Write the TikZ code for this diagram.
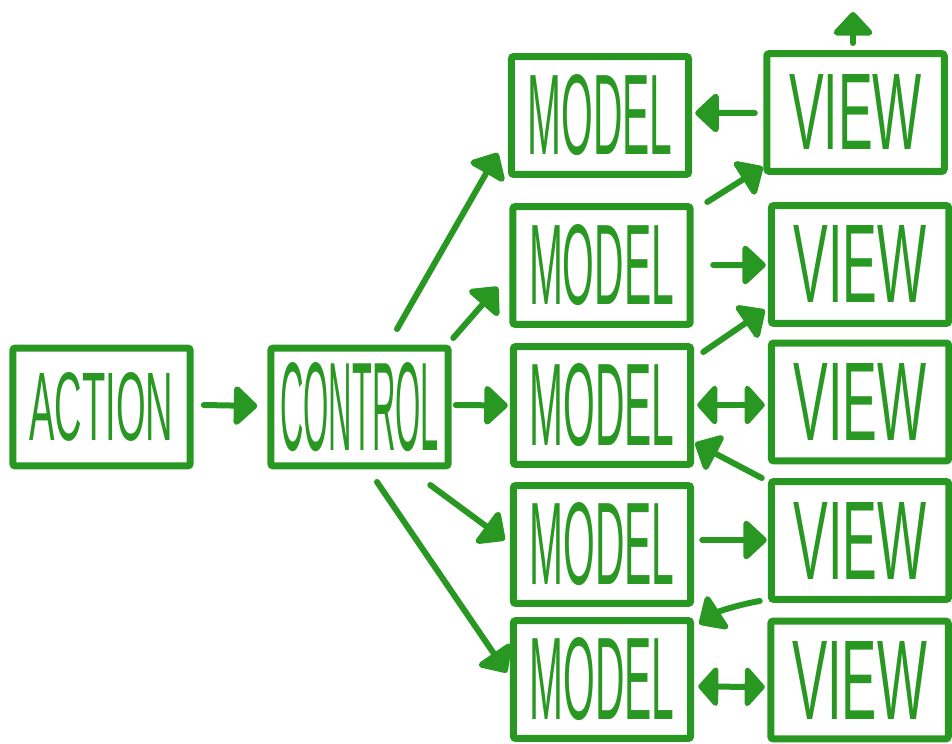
\documentclass[tikz,border=0pt]{standalone}
\usepackage{fontspec}
\setmainfont{Liberation Sans}
\usepackage{graphicx}
\usetikzlibrary{arrows.meta, calc}
\definecolor{pen}{RGB}{40,152,35}

\begin{document}
\begin{tikzpicture}[
  x=0.02cm, y=-0.02cm,
  box/.style={rectangle, draw=pen, line width=0.14cm, minimum width=3.55cm, minimum height=2.36cm, inner sep=0pt, rounded corners=1.5pt, text=pen},
  msg/.style={-{Triangle[length=0.5cm, width=0.9cm, round]}, line width=0.12cm, draw=pen, line cap=round},
  both/.style={{Triangle[length=0.42cm, width=0.92cm, round]}-{Triangle[length=0.42cm, width=0.92cm, round]}, line width=0.12cm, draw=pen},
]
  \useasboundingbox (0,0) rectangle (952,743);

  \node[box] (A) at (101.5,407) {\resizebox{2.88cm}{1.36cm}{ACTION}};
  \node[box] (C) at (359.5,407) {\resizebox{3.18cm}{1.76cm}{CONTROL}};
  \node[box] (M1) at (600,115.5) {\resizebox{2.9cm}{1.6cm}{MODEL}};
  \node[box] (M2) at (601.5,265.5) {\resizebox{2.9cm}{1.6cm}{MODEL}};
  \node[box] (M3) at (602,405.5) {\resizebox{2.9cm}{1.64cm}{MODEL}};
  \node[box] (M4) at (602,544.5) {\resizebox{2.9cm}{1.64cm}{MODEL}};
  \node[box] (M5) at (602,679.5) {\resizebox{2.9cm}{1.64cm}{MODEL}};
  \node[box] (V1) at (855.5,112.5) {\resizebox{2.66cm}{1.5cm}{VIEW}};
  \node[box] (V2) at (860,264.5) {\resizebox{2.66cm}{1.54cm}{VIEW}};
  \node[box] (V3) at (860,402) {\resizebox{2.66cm}{1.54cm}{VIEW}};
  \node[box] (V4) at (860,540.5) {\resizebox{2.66cm}{1.54cm}{VIEW}};
  \node[box] (V5) at (859.5,680) {\resizebox{2.7cm}{1.56cm}{VIEW}};
  \coordinate (T) at (853,12);

  \draw[msg] ($(A.east)+(10,-2)$) -- ($(C.west)+(-10,-1)$);
  \draw[msg] ($(C.east)+(4,-2)$) -- ($(M3.west)+(-2,0)$);
  \draw[msg] ($(C.north)+(37.5,-15.5)$) -- ($(M1.west)+(-10,37.5)$);
  \draw[msg] ($(C.north east)+(1.5,-6.5)$) -- ($(M2.west)+(-11.5,21.5)$);
  \draw[msg] ($(C.south east)+(-21.5,15.5)$) -- ($(M4.west)+(-5,-4.5)$);
  \draw[msg] ($(C.south)+(17.5,12.5)$) -- ($(M5.west)+(-3,-7)$);
  \draw[msg] ($(V1.west)+(-8.5,0.5)$) -- ($(M1.east)+(3,-2.5)$);
  \draw[msg] ($(V1.north)+(-2.5,-7)$) -- (T);
  \draw[msg] ($(M2.north east)+(13.5,-1)$) -- ($(V1.south west)+(-0.5,-8)$);
  \draw[msg] ($(M2.east)+(19.5,-0.5)$) -- ($(V2.west)+(-2,0.5)$);
  \draw[msg] ($(M3.north east)+(9,9)$) -- ($(V2.south west)+(-3,-17)$);
  \draw[both] ($(M3.east)+(3,-0.5)$) -- ($(V3.west)+(-3,3)$);
  \draw[msg] ($(V4.north west)+(-6,0)$) -- ($(M3.south east)+(1,-25)$);
  \draw[msg] ($(M4.east)+(8,-4.5)$) -- ($(V4.west)+(-1,-0.5)$);
  \draw[msg] ($(V4.south west)+(-8,-2)$) .. controls +(-18,3) and +(20,-13) .. ($(M5.north east)+(5,7)$);
  \draw[both] ($(M5.east)+(4,7)$) -- ($(V5.west)+(-2.5,7)$);
\end{tikzpicture}
\end{document}
